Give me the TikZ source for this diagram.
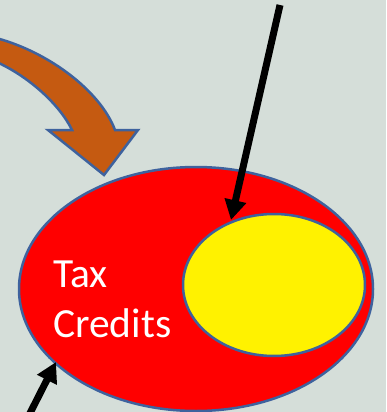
\documentclass[tikz,border=0pt]{standalone}
\usepackage{fontspec}
\setmainfont{Carlito}
\usetikzlibrary{shapes.geometric,arrows.meta}
\definecolor{bgc}{RGB}{213,222,217}
\definecolor{outl}{RGB}{62,98,158}
\definecolor{orng}{RGB}{197,90,17}
\tikzset{
  blob/.style={ellipse, draw=outl, line width=2.5pt, inner sep=0pt},
  ptr/.style={draw=black, line width=7pt, -{Triangle[width=21pt,length=20pt]}},
  lbl/.style={anchor=base west, inner sep=0pt, text=white, font=\fontsize{41.5}{50}\selectfont}
}
\begin{document}
\begin{tikzpicture}[x=1pt,y=-1pt]
\useasboundingbox (0,0) rectangle (386,412);
\clip (0,0) rectangle (386,412);
\fill[bgc] (0,0) rectangle (386,412);
% curved block arrow
\draw[fill=orng, draw=outl, line width=2.5pt, line join=miter]
  (-8,37) .. controls (46,50) and (100,90) .. (115,130)
  -- (138,130) -- (104,175) -- (48,130) -- (72,130)
  .. controls (60,105) and (28,75) .. (-8,60) -- cycle;
% ellipses
\node[blob, fill=red, minimum width=354pt, minimum height=244pt] (red) at (196,289) {};
\node[blob, fill=yellow, minimum width=182pt, minimum height=142pt] (yel) at (274,285) {};
% labels
\node[lbl] (tax) at (53,287) {Tax};
\node[lbl] (cred) at (53,337) {Credits};
% arrows
\coordinate (s1) at (280,5);
\coordinate (t1) at (231,220);
\draw[ptr] (s1) -- (t1);
\coordinate (s2) at (24,425);
\coordinate (t2) at (56,362);
\draw[ptr] (s2) -- (t2);
\end{tikzpicture}
\end{document}
